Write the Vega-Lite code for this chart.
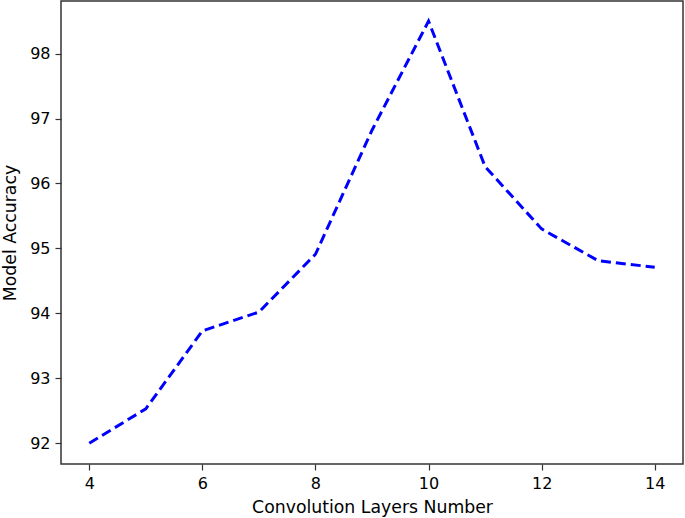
{
  "$schema": "https://vega.github.io/schema/vega-lite/v6.json",
  "autosize": "none",
  "padding": {"left": 61, "top": 1, "right": 2, "bottom": 54},
  "width": 622,
  "height": 463,
  "background": "white",
  "data": {"values": [
    {"layers": 4, "acc": 92.0},
    {"layers": 5, "acc": 92.53},
    {"layers": 6, "acc": 93.73},
    {"layers": 7, "acc": 94.02},
    {"layers": 8, "acc": 94.91},
    {"layers": 9, "acc": 96.82},
    {"layers": 10, "acc": 98.5},
    {"layers": 11, "acc": 96.26},
    {"layers": 12, "acc": 95.3},
    {"layers": 13, "acc": 94.81},
    {"layers": 14, "acc": 94.71}
  ]},
  "mark": {"type": "line", "color": "#0000ff", "strokeWidth": 3, "strokeDash": [10, 5], "clip": true},
  "encoding": {
    "x": {"field": "layers", "type": "quantitative", "title": "Convolution Layers Number",
      "scale": {"domain": [3.5, 14.5], "nice": false, "zero": false},
      "axis": {"values": [4, 6, 8, 10, 12, 14], "grid": false}},
    "y": {"field": "acc", "type": "quantitative", "title": "Model Accuracy",
      "scale": {"domain": [91.68, 98.81], "nice": false, "zero": false},
      "axis": {"values": [92, 93, 94, 95, 96, 97, 98], "grid": false}}
  },
  "config": {
    "view": {"stroke": "#333333", "strokeWidth": 1.5},
    "axis": {
      "labelFont": "DejaVu Sans", "titleFont": "DejaVu Sans",
      "labelFontSize": 16, "titleFontSize": 17.3, "titleFontWeight": "normal",
      "labelColor": "#000000", "titleColor": "#000000",
      "domain": false, "tickColor": "#333333", "tickSize": 6, "tickWidth": 1.2,
      "labelPadding": 5
    },
    "axisX": {"titlePadding": 7},
    "axisY": {"titlePadding": 10}
  }
}
